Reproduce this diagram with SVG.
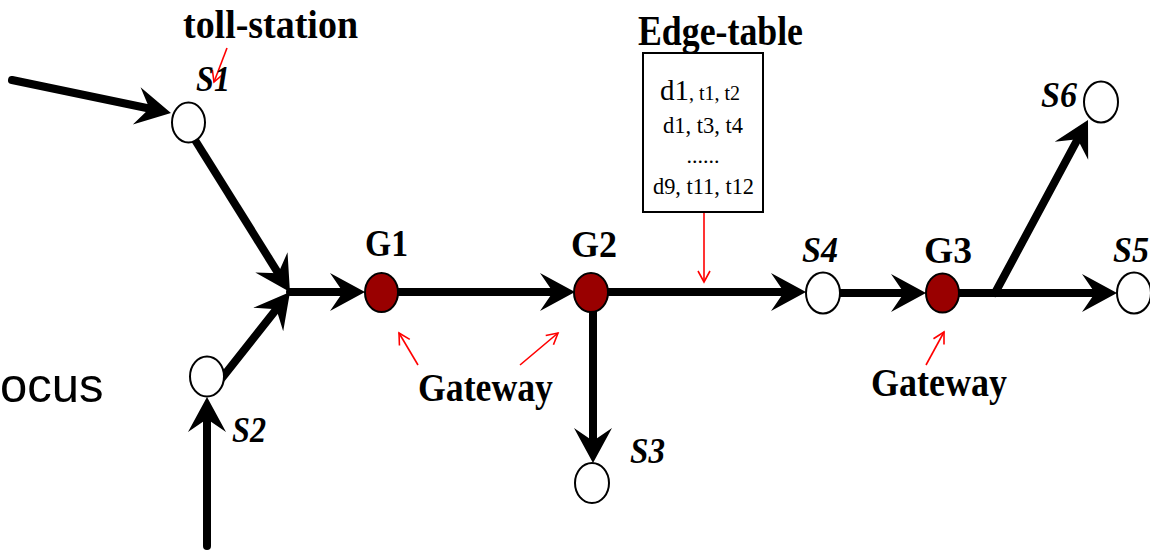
<svg xmlns="http://www.w3.org/2000/svg" width="1150" height="551" viewBox="0 0 1150 551">
<style>
.edge{stroke:#000;stroke-width:8;fill:none;stroke-linecap:round;marker-end:url(#ah)}
.plain{stroke:#000;stroke-width:8;fill:none;stroke-linecap:round}
.note{stroke:#ff0000;stroke-width:1.6;fill:none;marker-end:url(#rah)}
.st{fill:#fff;stroke:#000;stroke-width:2}
.gw{fill:#990000;stroke:#000;stroke-width:2}
.lbl{font-family:"Liberation Serif","Times New Roman",serif;font-weight:bold;fill:#000}
.it{font-family:"Liberation Serif","Times New Roman",serif;font-weight:bold;font-style:italic;fill:#000}
.tbl{font-family:"Liberation Serif","Times New Roman",serif;fill:#000}
</style>
<defs>
<marker id="ah" markerUnits="userSpaceOnUse" markerWidth="60" markerHeight="60" viewBox="-30 -30 60 60" refX="0" refY="0" orient="auto" overflow="visible">
<path d="M15,0 L-20,-19 L-7,0 L-20,19 Z" fill="#000"/>
</marker>
<marker id="rah" markerUnits="userSpaceOnUse" markerWidth="30" markerHeight="30" viewBox="-15 -15 30 30" refX="0" refY="0" orient="auto" overflow="visible">
<path d="M-11,-6 L0,0 L-11,6" fill="none" stroke="#ff0000" stroke-width="1.6"/>
</marker>
</defs>
<rect width="1150" height="551" fill="#fff"/>
<text x="0" y="402" font-family="Liberation Sans, Arial, sans-serif" font-size="49" fill="#000">ocus</text>
<g id="connectors">
<line class="edge" x1="12" y1="80" x2="156.3" y2="110"/>
<line class="edge" x1="195" y1="140" x2="282" y2="279.3"/>
<line class="edge" x1="222" y1="378" x2="280.7" y2="303.8"/>
<line class="edge" x1="207" y1="546" x2="207" y2="412"/>
<line class="edge" x1="290" y1="292" x2="350" y2="292"/>
<line class="edge" x1="398" y1="292" x2="560" y2="292"/>
<line class="edge" x1="593" y1="310" x2="593" y2="448"/>
<line class="edge" x1="608" y1="292" x2="791" y2="292"/>
<line class="edge" x1="840" y1="293" x2="911" y2="293"/>
<line class="plain" x1="959" y1="293" x2="995" y2="293"/>
<line class="edge" x1="995" y1="293" x2="1102" y2="293"/>
<line class="edge" x1="995" y1="293" x2="1080.9" y2="133.2"/>
<line class="note" x1="227" y1="48" x2="214" y2="82"/>
<line class="note" x1="704" y1="213" x2="704" y2="282"/>
<line class="note" x1="418" y1="365" x2="399" y2="333"/>
<line class="note" x1="520" y1="365" x2="558" y2="333"/>
<line class="note" x1="926" y1="365" x2="944" y2="332"/>
</g>
<g id="S1"><ellipse class="st" cx="188.5" cy="122.5" rx="16.5" ry="20"/><text class="it" x="196" y="91" font-size="36" textLength="34" lengthAdjust="spacingAndGlyphs">S1</text></g>
<g id="S2"><ellipse class="st" cx="207" cy="376.5" rx="17" ry="20"/><text class="it" x="232" y="442" font-size="36" textLength="34" lengthAdjust="spacingAndGlyphs">S2</text></g>
<g id="S3"><ellipse class="st" cx="592" cy="483" rx="17" ry="20"/><text class="it" x="630" y="463" font-size="36" textLength="35" lengthAdjust="spacingAndGlyphs">S3</text></g>
<g id="S4"><ellipse class="st" cx="823" cy="293" rx="17" ry="20.5"/><text class="it" x="802" y="262" font-size="36" textLength="36" lengthAdjust="spacingAndGlyphs">S4</text></g>
<g id="S5"><ellipse class="st" cx="1134" cy="293" rx="17" ry="20.5"/><text class="it" x="1113" y="262" font-size="36" textLength="36" lengthAdjust="spacingAndGlyphs">S5</text></g>
<g id="S6"><ellipse class="st" cx="1101" cy="102" rx="17" ry="20.5"/><text class="it" x="1041" y="107" font-size="36" textLength="36" lengthAdjust="spacingAndGlyphs">S6</text></g>
<g id="G1"><ellipse class="gw" cx="381.5" cy="292.5" rx="16.5" ry="19.5"/><text class="lbl" x="365" y="256" font-size="38" textLength="43" lengthAdjust="spacingAndGlyphs">G1</text></g>
<g id="G2"><ellipse class="gw" cx="591" cy="292.5" rx="17" ry="19.5"/><text class="lbl" x="571" y="257" font-size="38" textLength="46" lengthAdjust="spacingAndGlyphs">G2</text></g>
<g id="G3"><ellipse class="gw" cx="942.5" cy="293" rx="16.5" ry="19.5"/><text class="lbl" x="924" y="263" font-size="38" textLength="48" lengthAdjust="spacingAndGlyphs">G3</text></g>
<g id="toll-label"><text class="lbl" x="183" y="38" font-size="39" textLength="175" lengthAdjust="spacingAndGlyphs">toll-station</text></g>
<g id="gateway-labels">
<text class="lbl" x="418" y="401" font-size="40" textLength="135" lengthAdjust="spacingAndGlyphs">Gateway</text>
<text class="lbl" x="871" y="396" font-size="40" textLength="136" lengthAdjust="spacingAndGlyphs">Gateway</text>
</g>
<g id="edge-table">
<text class="lbl" x="638" y="45" font-size="42" textLength="165" lengthAdjust="spacingAndGlyphs">Edge-table</text>
<rect x="643" y="53" width="120" height="159" fill="#fff" stroke="#000" stroke-width="2"/>
<text class="tbl" x="660" y="100"><tspan font-size="29">d1</tspan><tspan font-size="20">, t1, t2</tspan></text>
<text class="tbl" x="663" y="133" font-size="23" textLength="80" lengthAdjust="spacingAndGlyphs">d1, t3, t4</text>
<text class="tbl" x="703" y="163" font-size="22" text-anchor="middle">......</text>
<text class="tbl" x="653" y="194" font-size="23" textLength="101" lengthAdjust="spacingAndGlyphs">d9, t11, t12</text>
</g>
</svg>
